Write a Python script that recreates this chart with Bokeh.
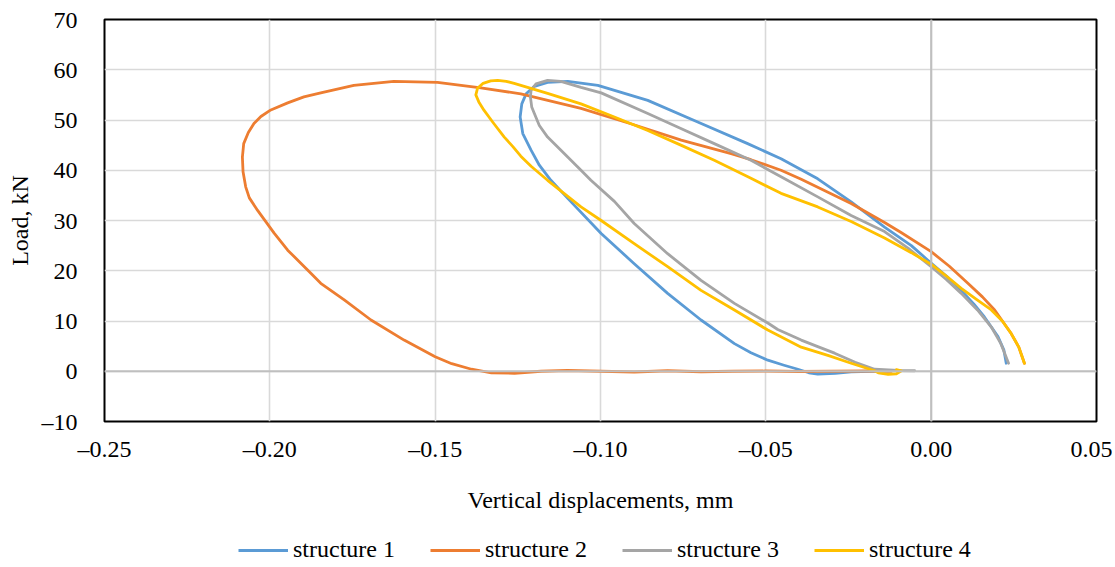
from bokeh.plotting import figure
from bokeh.models import FixedTicker, Span, Legend, LegendItem, Range1d
from bokeh.layouts import column
from bokeh.embed import file_html
from bokeh.resources import INLINE

# ---- data ----
x_ticks = [-0.25, -0.2, -0.15, -0.1, -0.05, 0.0, 0.05]
x_tick_labels = ["–0.25", "–0.20", "–0.15", "–0.10", "–0.05", "0.00", "0.05"]
y_ticks = [-10, 0, 10, 20, 30, 40, 50, 60, 70]
y_tick_labels = ["–10", "0", "10", "20", "30", "40", "50", "60", "70"]

series_names = ["structure 1", "structure 2", "structure 3", "structure 4"]
series_colors = ["#5B9BD5", "#ED7D31", "#A5A5A5", "#FFC000"]

s1_x = [-0.012, -0.018, -0.0242, -0.029, -0.0343, -0.037, -0.0403, -0.0445, -0.0494, -0.0545,
        -0.0595, -0.0696, -0.0797, -0.0898, -0.0998, -0.1099, -0.115, -0.1185, -0.1210, -0.1235,
        -0.1243, -0.1238, -0.1225, -0.1200, -0.1160, -0.1099, -0.1008, -0.0857, -0.0706, -0.0555,
        -0.0454, -0.0343, -0.0242, -0.0141, -0.006, -0.001, 0.0045, 0.0091, 0.013, 0.0161,
        0.0202, 0.022, 0.0227]
s1_y = [0.1, 0.0, -0.1, -0.4, -0.55, -0.3, 0.4, 1.2, 2.2, 3.7,
        5.5, 10.2, 15.5, 21.4, 27.4, 34.4, 38.0, 41.0, 44.0, 47.3,
        50.6, 53.2, 55.2, 56.7, 57.5, 57.7, 56.9, 53.9, 49.6, 45.3,
        42.3, 38.3, 33.7, 28.7, 25.0, 22.1, 19.0, 16.1, 13.3, 10.8,
        6.9, 4.2, 1.6]

s2_x = [-0.012, -0.020, -0.030, -0.040, -0.050, -0.060, -0.0696, -0.0797, -0.0898, -0.0998,
        -0.110, -0.118, -0.126, -0.133, -0.139, -0.145, -0.150, -0.1594, -0.1694, -0.1775,
        -0.1846, -0.1876, -0.1946, -0.1987, -0.2037, -0.2062, -0.2073, -0.2081, -0.2083, -0.2079,
        -0.2065, -0.2048, -0.2027, -0.1997, -0.1946, -0.1897, -0.1846, -0.1746, -0.1625, -0.1493,
        -0.1362, -0.1241, -0.1059, -0.0906, -0.0756, -0.0605, -0.0545, -0.0454, -0.0393, -0.0242,
        -0.0141, -0.0091, 0.0, 0.0055, 0.0111, 0.0155, 0.0192, 0.0242, 0.0265, 0.0282]
s2_y = [0.0, 0.05, 0.0, -0.05, 0.05, 0.0, -0.1, 0.1, -0.15, 0.0,
        0.15, 0.0, -0.4, -0.3, 0.4, 1.5, 2.9, 6.2, 10.2, 14.2,
        17.5, 19.5, 24.1, 27.5, 32.0, 34.5, 36.7, 39.7, 42.6, 45.3,
        47.5, 49.3, 50.7, 52.0, 53.4, 54.6, 55.4, 56.9, 57.7, 57.5,
        56.4, 55.2, 52.3, 49.2, 46.0, 43.3, 42.1, 40.0, 38.2, 33.4,
        29.6, 27.6, 23.8, 20.9, 17.5, 14.8, 12.2, 7.5, 4.8, 1.6]

s3_x = [-0.005, -0.010, -0.0171, -0.023, -0.0292, -0.0343, -0.0393, -0.0464, -0.0494, -0.0595,
        -0.0696, -0.0797, -0.0898, -0.0958, -0.1029, -0.1059, -0.1109, -0.1160, -0.1185, -0.1200,
        -0.1208, -0.1212, -0.1210, -0.1195, -0.1160, -0.1120, -0.1059, -0.0998, -0.0857, -0.0757,
        -0.0656, -0.0545, -0.0454, -0.0343, -0.0242, -0.0141, -0.007, 0.0, 0.0045, 0.0091,
        0.014, 0.0182, 0.021, 0.0234]
s3_y = [0.1, 0.15, 0.4, 1.8, 3.6, 4.9, 6.2, 8.3, 9.6, 13.5,
        18.1, 23.4, 29.4, 33.8, 38.0, 40.0, 43.3, 46.6, 48.9, 51.3,
        52.6, 54.6, 55.9, 57.2, 57.9, 57.7, 56.5, 55.4, 51.3, 48.3,
        45.3, 42.0, 38.7, 34.7, 31.0, 27.8, 24.5, 20.8, 18.3, 15.5,
        12.2, 8.8, 5.6, 1.6]

s4_x = [-0.0105, -0.009, -0.0105, -0.013, -0.016, -0.0171, -0.0242, -0.031, -0.0393, -0.0494,
        -0.0595, -0.0696, -0.0797, -0.0898, -0.0998, -0.1059, -0.116, -0.121, -0.1241, -0.1265,
        -0.1291, -0.1325, -0.1352, -0.1368, -0.1377, -0.1372, -0.1355, -0.1332, -0.1311, -0.1285,
        -0.1261, -0.116, -0.1059, -0.0958, -0.0857, -0.0757, -0.0656, -0.0545, -0.0454, -0.0343,
        -0.0242, -0.0141, -0.006, 0.0, 0.0045, 0.0091, 0.0137, 0.0182, 0.0215, 0.0242,
        0.0265, 0.0282]
s4_y = [0.3, 0.1, -0.5, -0.6, -0.3, 0.1, 1.6, 3.1, 4.8, 8.2,
        12.2, 16.1, 20.8, 25.4, 30.0, 32.7, 38.0, 40.8, 42.8, 44.7,
        46.6, 49.5, 51.9, 53.6, 55.0, 56.3, 57.3, 57.8, 57.9, 57.7,
        57.3, 55.3, 53.2, 50.6, 47.9, 45.0, 42.0, 38.4, 35.4, 32.7,
        29.8, 26.5, 23.6, 21.3, 19.0, 16.5, 14.3, 12.2, 10.0, 7.5,
        4.8, 1.6]

xs = [s1_x, s2_x, s3_x, s4_x]
ys = [s1_y, s2_y, s3_y, s4_y]

FONT = "Liberation Serif"

p = figure(width=1112, height=520,
           x_range=Range1d(-0.25, 0.05), y_range=Range1d(-10, 70),
           output_backend="svg", toolbar_location=None,
           min_border_left=104, min_border_right=16,
           min_border_top=19, min_border_bottom=99)

p.outline_line_color = "black"
p.outline_line_width = 2
p.background_fill_color = "white"
p.border_fill_color = "white"

p.xaxis.ticker = FixedTicker(ticks=x_ticks)
p.yaxis.ticker = FixedTicker(ticks=y_ticks)
p.xaxis.major_label_overrides = dict(zip(x_ticks, x_tick_labels))
p.yaxis.major_label_overrides = dict(zip(y_ticks, y_tick_labels))

for ax in (p.xaxis[0], p.yaxis[0]):
    ax.axis_line_color = None
    ax.major_tick_line_color = None
    ax.minor_tick_line_color = None
    ax.major_tick_out = 0
    ax.major_tick_in = 0
    ax.major_label_text_font = FONT
    ax.major_label_text_font_size = "24px"
    ax.major_label_text_color = "black"
    ax.axis_label_text_font = FONT
    ax.axis_label_text_font_size = "24px"
    ax.axis_label_text_font_style = "normal"
    ax.axis_label_text_color = "black"

p.xaxis.axis_label = "Vertical displacements, mm"
p.yaxis.axis_label = "Load, kN"
p.xaxis.major_label_standoff = 14
p.xaxis.axis_label_standoff = 22
p.yaxis.major_label_standoff = 27
p.yaxis.axis_label_standoff = 6

p.xgrid.grid_line_color = "#d9d9d9"
p.ygrid.grid_line_color = "#d9d9d9"
p.xgrid.grid_line_width = 1.6
p.ygrid.grid_line_width = 1.6

p.add_layout(Span(location=0, dimension="height", line_color="#bfbfbf", line_width=2))
p.add_layout(Span(location=0, dimension="width", line_color="#bfbfbf", line_width=2))

for color, x, y in zip(series_colors, xs, ys):
    p.line(x, y, line_color=color, line_width=2.8, line_join="round", line_cap="round")

# ---- legend strip underneath the chart ----
lg = figure(width=1112, height=44, output_backend="svg", toolbar_location=None,
            x_range=Range1d(0, 1), y_range=Range1d(0, 1),
            x_axis_location=None, y_axis_location=None,
            min_border_left=104, min_border_right=16, min_border_top=0, min_border_bottom=0)
lg.outline_line_color = None
lg.xgrid.visible = False
lg.ygrid.visible = False
items = []
for name, color in zip(series_names, series_colors):
    # single off-range point: only used so the legend can draw its line sample
    r = lg.line([5.0, 6.0], [5.0, 5.0], line_color=color, line_width=2.8)
    items.append(LegendItem(label=name, renderers=[r]))
legend = Legend(items=items, orientation="horizontal", location=(134, 1),
                padding=0, margin=0, spacing=35, glyph_width=50, label_standoff=5,
                border_line_color=None, background_fill_alpha=0,
                label_text_font=FONT, label_text_font_size="24px", label_text_color="black")
lg.add_layout(legend, "center")

layout = column(p, lg, spacing=0)
open("out.html", "w").write(file_html(layout, INLINE))
